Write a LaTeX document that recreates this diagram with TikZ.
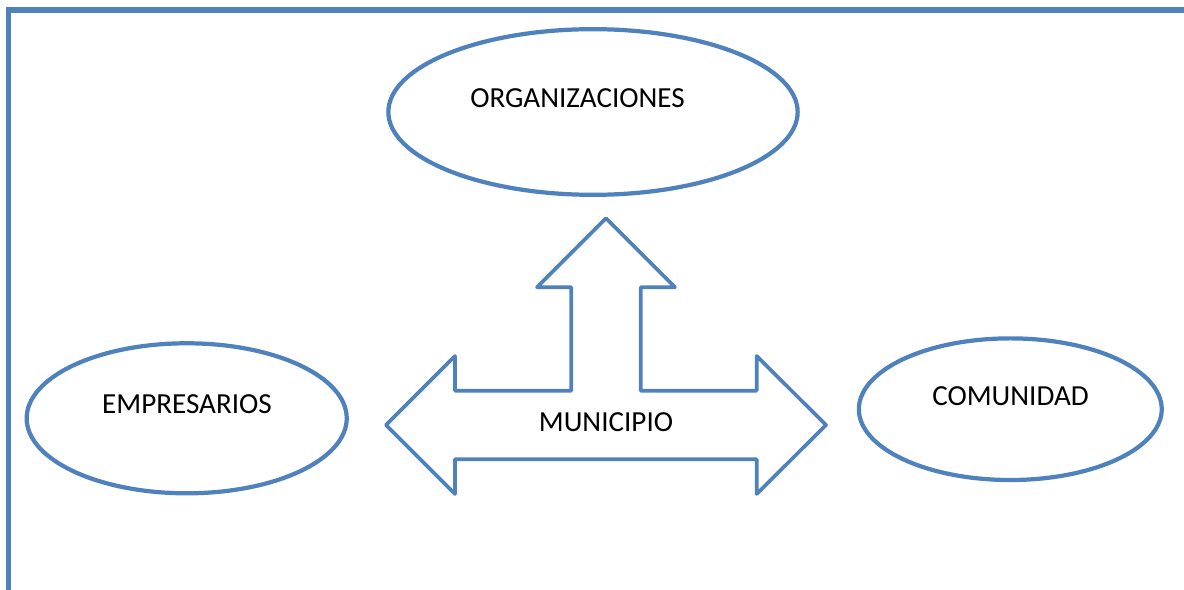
\documentclass[tikz,border=0pt]{standalone}
\usepackage{fontspec}
\setmainfont{Carlito}
\usepackage{xcolor}
\usetikzlibrary{shapes}
\definecolor{officeblue}{HTML}{4F81BD}

\begin{document}
\begin{tikzpicture}
[x=0.025cm,y=-0.025cm]
\tikzset{
	actor/.style = {ellipse, draw=officeblue, line width=3pt, inner sep=0},
	rotulo/.style = {font=\fontsize{20.7}{24}\selectfont, text=black, inner sep=0},
	marco/.style = {draw=officeblue, line width=3.6pt},
	tresvias/.style = {draw=officeblue, line width=2.6pt, line join=round}
}
\useasboundingbox (0,0) rectangle (1184,590);

\draw [marco] (1190,10) -- (8.5,10) -- (8.5,600);

\node(org) [actor, minimum width=10.23cm, minimum height=4.14cm] at (593,112) {};
\node(emp) [actor, minimum width=8.0cm, minimum height=3.75cm] at (186.7,418.3) {};
\node(com) [actor, minimum width=7.57cm, minimum height=3.54cm] at (1010.3,409.2) {};

\node(orgtext) [rotulo] at (577.5,97.7) {ORGANIZACIONES};
\node(emptext) [rotulo] at (187,404) {EMPRESARIOS};
\node(comtext) [rotulo] at (1010.5,395.7) {COMUNIDAD};

\draw [tresvias] (606,218.3) -- (675,287.3) -- (640.7,287.3) -- (640.7,390.7)
	-- (756.7,390.7) -- (756.7,356) -- (826,425) -- (756.7,494) -- (756.7,459.3)
	-- (455,459.3) -- (455,494) -- (386,425) -- (455,356) -- (455,390.7)
	-- (571.3,390.7) -- (571.3,287.3) -- (537,287.3) -- cycle;
\node(mun) [rotulo] at (606,422) {MUNICIPIO};
\end{tikzpicture}
\end{document}
